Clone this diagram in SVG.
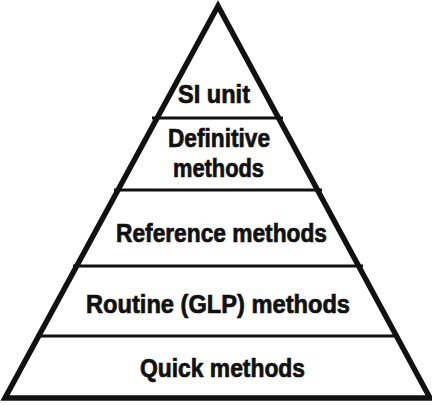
<svg xmlns="http://www.w3.org/2000/svg" width="432" height="406" viewBox="0 0 432 406">
<style>
.lbl{font-family:"Liberation Sans",Arial,sans-serif;font-weight:bold;font-size:25px;fill:#111;stroke:#111;stroke-width:0.7}
.div{stroke:#111;stroke-width:3;fill:none}
.tri{stroke:#111;stroke-width:5.5;fill:#fff;stroke-linejoin:miter;stroke-miterlimit:20}
</style>
<rect width="432" height="406" fill="#fff"/>
<g id="pyramid">
<polygon class="tri" points="218,6 5,398 430,398"/>
</g>
<g id="connectors">
<line class="div" x1="152" y1="118" x2="283" y2="118"/>
<line class="div" x1="114" y1="190" x2="322" y2="190"/>
<line class="div" x1="73" y1="266" x2="363" y2="266"/>
<line class="div" x1="36" y1="336" x2="397" y2="336"/>
</g>
<g id="si-unit"><text class="lbl" x="178" y="103" textLength="72" lengthAdjust="spacingAndGlyphs">SI unit</text></g>
<g id="definitive"><text class="lbl" x="168" y="147" textLength="102" lengthAdjust="spacingAndGlyphs">Definitive</text>
<text class="lbl" x="173" y="177" textLength="91" lengthAdjust="spacingAndGlyphs">methods</text></g>
<g id="reference"><text class="lbl" x="116" y="242" textLength="211" lengthAdjust="spacingAndGlyphs">Reference methods</text></g>
<g id="routine"><text class="lbl" x="86" y="313" textLength="264" lengthAdjust="spacingAndGlyphs">Routine (GLP) methods</text></g>
<g id="quick"><text class="lbl" x="140" y="377" textLength="165" lengthAdjust="spacingAndGlyphs">Quick methods</text></g>
</svg>
